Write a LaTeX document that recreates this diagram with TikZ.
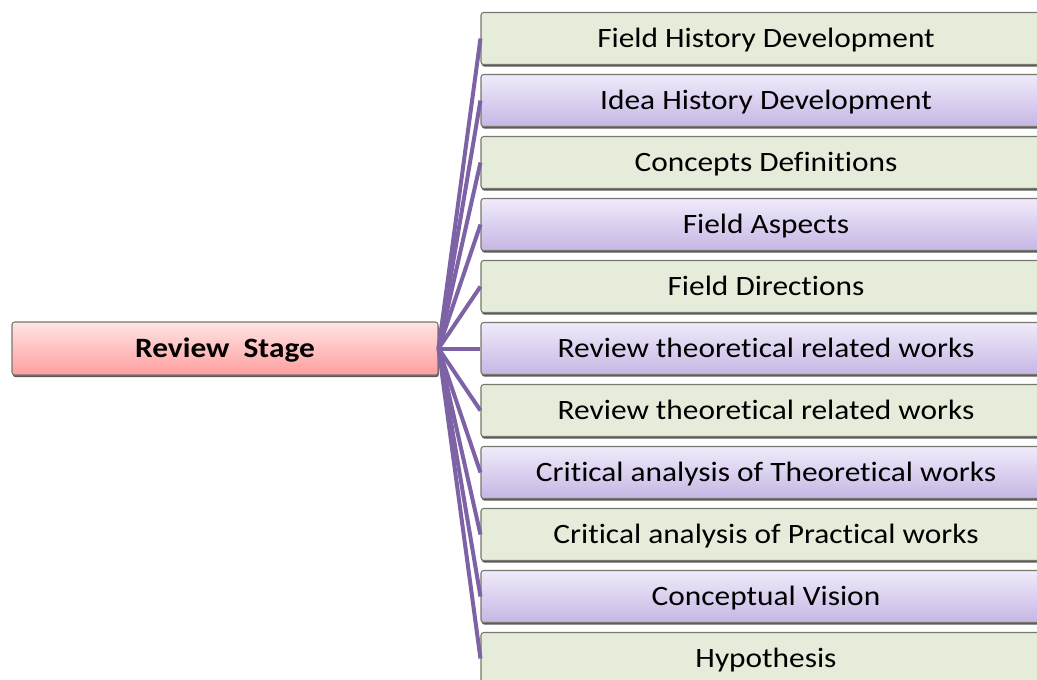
\documentclass[tikz,border=0pt]{standalone}
\usepackage{fontspec}
\setmainfont{Carlito}[FakeStretch=1.12, Ligatures=NoCommon]
\usetikzlibrary{shadows}
\definecolor{linkPurple}{RGB}{126,98,166}
\definecolor{greenFill}{RGB}{230,236,218}
\definecolor{purpleTop}{RGB}{240,234,250}
\definecolor{purpleBot}{RGB}{198,182,228}
\definecolor{pinkTop}{RGB}{255,228,228}
\definecolor{pinkBot}{RGB}{255,158,158}
\definecolor{boxEdge}{RGB}{120,120,112}
\newcommand{\boxW}{427.5pt}
\newcommand{\boxH}{39pt}
\newcommand{\boxX}{766}
\newcommand{\stageW}{319.5pt}
\newcommand{\stageH}{39.75pt}
\begin{document}
\begin{tikzpicture}[x=0.75pt,y=-0.75pt,
  box/.style={draw=boxEdge, line width=0.8pt, rounded corners=2pt,
    minimum width=\boxW, minimum height=\boxH, inner sep=0pt,
    text height=18pt, text depth=4pt,
    font=\fontsize{21}{24}\selectfont,
    drop shadow={shadow xshift=0.6pt, shadow yshift=-1.6pt, fill=black!65, opacity=1}},
  greenbox/.style={box, fill=greenFill},
  purplebox/.style={box, top color=purpleTop, bottom color=purpleBot},
  stagebox/.style={box, top color=pinkTop, bottom color=pinkBot,
    minimum width=\stageW, minimum height=\stageH, font=\fontsize{21}{24}\selectfont\bfseries},
  link/.style={draw=linkPurple, line width=3pt}]

\useasboundingbox (0,0) rectangle (1037,679);
\clip (0,0) rectangle (1037,679);

\node[stagebox] (stage) at (225,348.5) {Review\ \ Stage};

\node[greenbox]  (fieldhist)  at (\boxX,38.5)  {Field History Development};
\node[purplebox] (ideahist)   at (\boxX,100.5) {Idea History Development};
\node[greenbox]  (concepts)   at (\boxX,162.5) {Concepts Definitions};
\node[purplebox] (aspects)    at (\boxX,224.5) {Field Aspects};
\node[greenbox]  (directions) at (\boxX,286.5) {Field Directions};
\node[purplebox] (theorA)     at (\boxX,348.5) {Review theoretical related works};
\node[greenbox]  (theorB)     at (\boxX,410.5) {Review theoretical related works};
\node[purplebox] (critTheor)  at (\boxX,472.5) {Critical analysis of Theoretical works};
\node[greenbox]  (critPract)  at (\boxX,534.5) {Critical analysis of Practical works};
\node[purplebox] (vision)     at (\boxX,596.5) {Conceptual Vision};
\node[greenbox]  (hypo)       at (\boxX,658.5) {Hypothesis};

% links from the stage to every item
\draw[link] (stage.east) -- (fieldhist.west);
\draw[link] (stage.east) -- (ideahist.west);
\draw[link] (stage.east) -- (concepts.west);
\draw[link] (stage.east) -- (aspects.west);
\draw[link] (stage.east) -- (directions.west);
\draw[link] (stage.east) -- (theorA.west);
\draw[link] (stage.east) -- (theorB.west);
\draw[link] (stage.east) -- (critTheor.west);
\draw[link] (stage.east) -- (critPract.west);
\draw[link] (stage.east) -- (vision.west);
\draw[link] (stage.east) -- (hypo.west);
\end{tikzpicture}
\end{document}
